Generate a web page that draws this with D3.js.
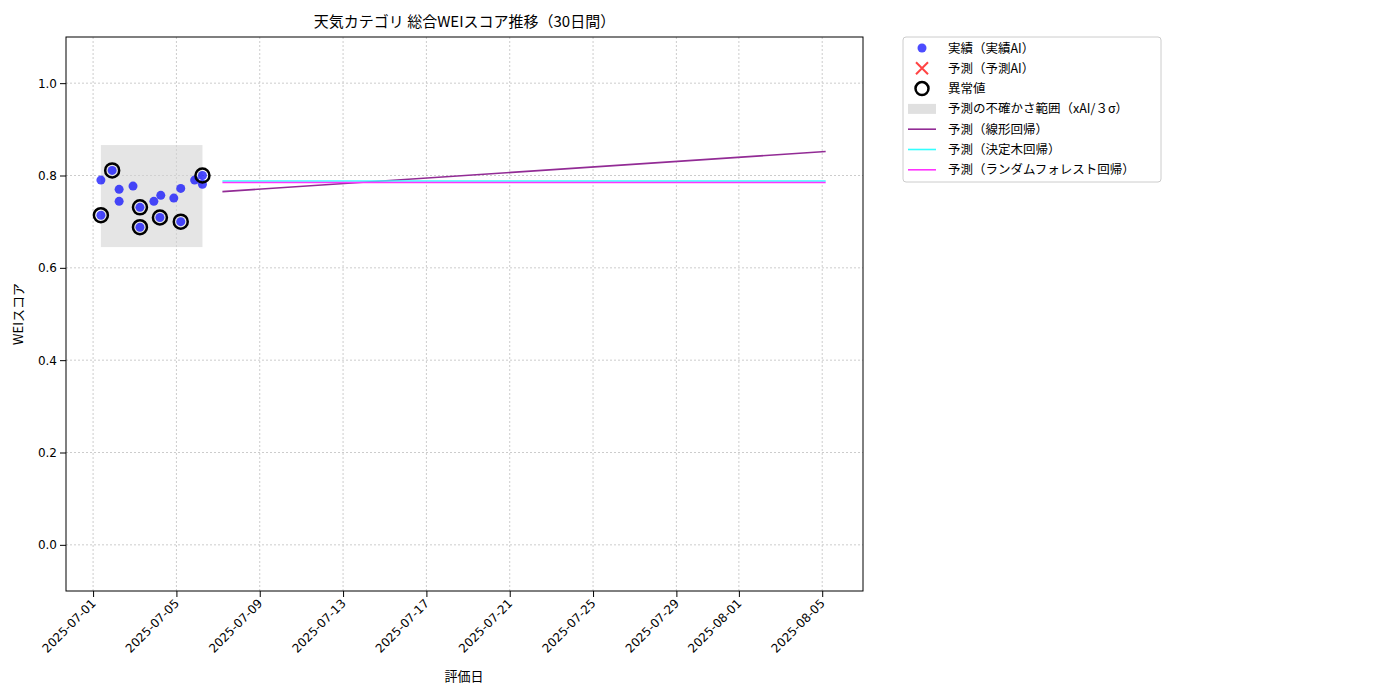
<!DOCTYPE html>
<html><head><meta charset="utf-8">
<script src="https://cdn.jsdelivr.net/npm/d3@7"></script>
<style>body{margin:0;background:#fff;font-family:"Noto Sans CJK JP","Noto Sans",sans-serif}</style>
</head><body>
<script>
// actual scores (hours offset from 2025-07-01)
const actualTimes = [9, 9, 22, 30, 30, 46, 54, 54, 70, 78, 77, 93, 101, 101, 117, 126, 126];
const actualValues = [0.714, 0.790, 0.811, 0.770, 0.744, 0.777, 0.731, 0.688, 0.744, 0.757, 0.709, 0.751, 0.772, 0.700, 0.790, 0.800, 0.781];
const outlierIdx = [0, 2, 6, 7, 10, 13, 15];
const bandX = [9, 126];
const bandY = [0.645, 0.866];
const predStart = 149, predEnd = 844;
const linearVals = [0.765, 0.852];
const treeVal = 0.788;
const rfVal = 0.785;
const tickLabels = ["2025-07-01","2025-07-05","2025-07-09","2025-07-13","2025-07-17","2025-07-21","2025-07-25","2025-07-29","2025-08-01","2025-08-05"];

const base = new Date(2025, 6, 1);
const t = h => new Date(base.getTime() + h * 3600e3);

const svg = d3.select("body").append("svg").attr("width", 1400).attr("height", 700);
const L = 66, R = 863, T = 37, B = 591;
const x = d3.scaleTime().domain([t(-31.2), t(887)]).range([L, R]);
const y = d3.scaleLinear().domain([-0.1, 1.1]).range([B, T]);
const tickDates = tickLabels.map(s => { const p = s.split("-"); return new Date(+p[0], +p[1]-1, +p[2]); });

// grid
const g = svg.append("g");
tickDates.forEach(d => g.append("line").attr("x1", x(d)).attr("x2", x(d)).attr("y1", T).attr("y2", B)
  .attr("stroke", "#ccc").attr("stroke-dasharray", "2,2"));
[0, 0.2, 0.4, 0.6, 0.8, 1.0].forEach(v => g.append("line").attr("x1", L).attr("x2", R).attr("y1", y(v)).attr("y2", y(v))
  .attr("stroke", "#ccc").attr("stroke-dasharray", "2,2"));

svg.append("rect").attr("x", x(t(bandX[0]))).attr("width", x(t(bandX[1])) - x(t(bandX[0])))
  .attr("y", y(bandY[1])).attr("height", y(bandY[0]) - y(bandY[1])).attr("fill", "#d3d3d3").attr("opacity", 0.6);

const line = (v0, v1, c) => svg.append("line").attr("x1", x(t(predStart))).attr("x2", x(t(predEnd)))
  .attr("y1", y(v0)).attr("y2", y(v1)).attr("stroke", c).attr("stroke-width", 1.6);
line(linearVals[0], linearVals[1], "#922b95");
line(treeVal, treeVal, "#33ffff");
line(rfVal, rfVal, "#ff33ff");

svg.selectAll(".pt").data(actualTimes).join("circle").attr("cx", d => x(t(d)))
  .attr("cy", (d, i) => y(actualValues[i])).attr("r", 4.5).attr("fill", "#0000ff").attr("opacity", 0.7);
svg.selectAll(".out").data(outlierIdx).join("circle").attr("cx", i => x(t(actualTimes[i])))
  .attr("cy", i => y(actualValues[i])).attr("r", 7).attr("fill", "none").attr("stroke", "#000").attr("stroke-width", 2.5);

svg.append("rect").attr("x", L).attr("y", T).attr("width", R - L).attr("height", B - T).attr("fill", "none").attr("stroke", "#000");

// axes
const xa = svg.append("g").attr("transform", `translate(0,${B})`)
  .call(d3.axisBottom(x).tickValues(tickDates).tickFormat((d, i) => tickLabels[i]).tickSizeOuter(0));
xa.select(".domain").remove();
xa.selectAll("text").attr("transform", "rotate(-45)").attr("text-anchor", "end").attr("dx", "-0.6em").attr("dy", "0.2em")
  .style("font-size", "12px").style("font-family", "DejaVu Sans");
const ya = svg.append("g").attr("transform", `translate(${L},0)`)
  .call(d3.axisLeft(y).tickValues([0, 0.2, 0.4, 0.6, 0.8, 1.0]).tickFormat(d3.format(".1f")).tickSizeOuter(0));
ya.select(".domain").remove();
ya.selectAll("text").style("font-size", "12px").style("font-family", "DejaVu Sans");

svg.append("text").attr("x", (L + R) / 2).attr("y", 27).attr("text-anchor", "middle").style("font-size", "15px")
  .text("天気カテゴリ 総合WEIスコア推移（30日間）");
svg.append("text").attr("x", 464).attr("y", 681).attr("text-anchor", "middle").style("font-size", "13px").text("評価日");
svg.append("text").attr("transform", "translate(23,314) rotate(-90)").attr("text-anchor", "middle").style("font-size", "13px").text("WEIスコア");

// legend
const lg = svg.append("g").attr("transform", "translate(903,37)");
lg.append("rect").attr("width", 258).attr("height", 145).attr("fill", "#fff").attr("stroke", "#ccc").attr("rx", 3);
const items = ["実績（実績AI）","予測（予測AI）","異常値","予測の不確かさ範囲（xAI/３σ）","予測（線形回帰）","予測（決定木回帰）","予測（ランダムフォレスト回帰）"];
items.forEach((s, i) => {
  const yy = 11 + i * 20.3, cx = 19;
  const it = lg.append("g");
  if (i === 0) it.append("circle").attr("cx", cx).attr("cy", yy).attr("r", 4.5).attr("fill", "#0000ff").attr("opacity", 0.7);
  if (i === 1) { it.append("path").attr("d", `M${cx-6},${yy-6}L${cx+6},${yy+6}M${cx-6},${yy+6}L${cx+6},${yy-6}`).attr("stroke", "#ff4444").attr("stroke-width", 2); }
  if (i === 2) it.append("circle").attr("cx", cx).attr("cy", yy).attr("r", 6.5).attr("fill", "none").attr("stroke", "#000").attr("stroke-width", 2.5);
  if (i === 3) it.append("rect").attr("x", cx - 14).attr("y", yy - 5).attr("width", 28).attr("height", 10).attr("fill", "#d3d3d3").attr("opacity", 0.7);
  if (i >= 4) it.append("line").attr("x1", cx - 14).attr("x2", cx + 14).attr("y1", yy).attr("y2", yy)
    .attr("stroke", ["#922b95", "#33ffff", "#ff33ff"][i - 4]).attr("stroke-width", 1.6);
  it.append("text").attr("x", 45).attr("y", yy + 4.5).style("font-size", "12.5px").text(s);
});
</script>
</body></html>
